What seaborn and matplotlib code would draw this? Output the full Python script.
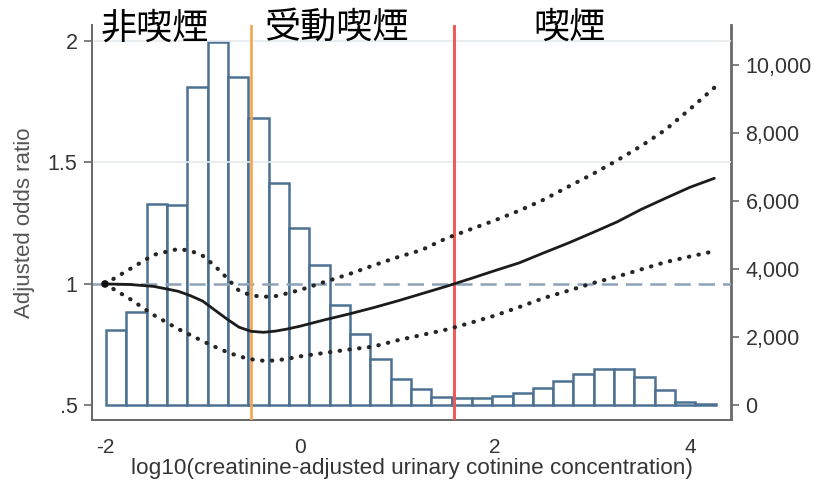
import numpy as np
import pandas as pd
import matplotlib
matplotlib.use("Agg")
import matplotlib.pyplot as plt
import seaborn as sns

# Histogram of log10 cotinine (right axis, number of participants)
bin_start = -1.99
bin_width = 0.2085
counts = [2220, 2750, 5920, 5890, 9345, 10685, 9655, 8450, 6525, 5205,
          4125, 2950, 2090, 1355, 780, 475, 260, 230, 230, 290,
          375, 505, 720, 925, 1065, 1080, 830, 455, 110, 45]

# Spline fit of the adjusted odds ratio with 95% confidence band (left axis)
x_fit = [-2.0, -1.75, -1.5, -1.25, -1.125, -1.0, -0.875, -0.75, -0.625, -0.5,
         -0.375, -0.25, -0.125, 0.0, 0.25, 0.5, 0.75, 1.0, 1.25, 1.5,
         1.75, 2.0, 2.25, 2.5, 2.75, 3.0, 3.25, 3.5, 3.75, 4.0, 4.25]
or_fit = [1.0, 0.998, 0.99, 0.97, 0.952, 0.93, 0.893, 0.856, 0.822, 0.805,
          0.801, 0.806, 0.815, 0.826, 0.852, 0.876, 0.902, 0.93, 0.96, 0.99,
          1.022, 1.055, 1.087, 1.128, 1.168, 1.211, 1.255, 1.307, 1.353, 1.398,
          1.435]
or_upper = [1.0, 1.06, 1.12, 1.144, 1.137, 1.117, 1.075, 1.025, 0.972, 0.953,
            0.947, 0.95, 0.962, 0.975, 1.008, 1.04, 1.076, 1.11, 1.14, 1.188,
            1.225, 1.262, 1.302, 1.347, 1.40, 1.452, 1.508, 1.568, 1.635, 1.72,
            1.808]
or_lower = [1.0, 0.94, 0.872, 0.815, 0.79, 0.765, 0.742, 0.72, 0.702, 0.69,
            0.684, 0.685, 0.692, 0.702, 0.716, 0.73, 0.742, 0.768, 0.79, 0.812,
            0.84, 0.87, 0.905, 0.942, 0.972, 1.003, 1.03, 1.06, 1.09, 1.113,
            1.135]

# Exposure cut-offs (log10 scale)
cut_passive = -0.5
cut_smoker = 1.58

group_labels = ["非喫煙", "受動喫煙", "喫煙"]
group_x = [-1.49, 0.37, 2.76]

x_ticks = [-2, 0, 2, 4]
x_tick_labels = ["-2", "0", "2", "4"]
y_ticks = [0.5, 1.0, 1.5, 2.0]
y_tick_labels = [".5", "1", "1.5", "2"]
count_ticks = [0, 2000, 4000, 6000, 8000, 10000]
count_tick_labels = ["0", "2,000", "4,000", "6,000", "8,000", "10,000"]

sns.set_style("white")
plt.rcParams["font.family"] = ["Liberation Sans", "DejaVu Sans"]

TEXT = "#353535"
AXIS = "#6a6a6a"
BAR_EDGE = "#4d7192"

fig = plt.figure(figsize=(8.17, 4.87), dpi=100)
ax = fig.add_axes([91.5 / 817, 67 / 487, 640 / 817, 395 / 487])
axr = ax.twinx()

# histogram underneath the odds-ratio curves
edges = [float(e) for e in bin_start + bin_width * np.arange(len(counts) + 1)]
hist_df = pd.DataFrame({
    "cotinine": [(edges[i] + edges[i + 1]) / 2 for i in range(len(counts))],
    "n": counts,
})
sns.histplot(data=hist_df, x="cotinine", weights="n", bins=edges, ax=axr,
             facecolor="white", edgecolor=BAR_EDGE, linewidth=1.8, alpha=1)
axr.set_ylim(-426, 11175)
axr.set_yticks(count_ticks)
axr.set_yticklabels(count_tick_labels)
axr.set_ylabel("")
axr.set_xlabel("")

ax.set_zorder(axr.get_zorder() + 1)
ax.patch.set_visible(False)

ax.set_xlim(-2.138, 4.426)
ax.set_ylim(0.44, 2.066)
# light reference lines at the upper odds-ratio ticks
for gy in y_ticks[2:]:
    ax.axhline(gy, color="#e6eaee", linewidth=1.2, zorder=0.5)

ax.axhline(1.0, color="#8ea3b9", linewidth=1.8, linestyle=(0, (6.5, 3.2)), zorder=2)
ax.axvline(cut_passive, color="#f5a44e", linewidth=1.9, zorder=3)
ax.axvline(cut_smoker, color="#ef5656", linewidth=2.1, zorder=3)

dot_style = dict(color="#262626", linewidth=3.0, linestyle=(0, (0.1, 2.25)),
                 dash_capstyle="round", errorbar=None, zorder=4)
sns.lineplot(x=x_fit, y=or_upper, ax=ax, **dot_style)
sns.lineplot(x=x_fit, y=or_lower, ax=ax, **dot_style)
sns.lineplot(x=x_fit, y=or_fit, ax=ax, color="#1c1c1c", linewidth=2.0,
             errorbar=None, zorder=5)
sns.scatterplot(x=x_fit[:1], y=or_fit[:1], ax=ax, color="#111111", s=30,
                edgecolor="none", zorder=6)

ax.set_xticks(x_ticks)
ax.set_xticklabels(x_tick_labels)
ax.set_yticks(y_ticks)
ax.set_yticklabels(y_tick_labels)

for a in (ax, axr):
    a.tick_params(axis="both", length=6, width=1.2, color=AXIS,
                  labelcolor=TEXT, labelsize=15.5, pad=4)
    a.spines["top"].set_visible(False)
    for s in ("left", "right", "bottom"):
        a.spines[s].set_color(AXIS)
        a.spines[s].set_linewidth(1.3)
ax.tick_params(axis="x", pad=7, labelsize=15)

ax.set_xlabel("log10(creatinine-adjusted urinary cotinine concentration)",
              fontsize=16.2, color=TEXT, labelpad=0.5)
ax.set_ylabel("Adjusted odds ratio", fontsize=16, color="#555555", labelpad=9)

for label, gx in zip(group_labels, group_x):
    ax.text(gx, 0.992, label, transform=ax.get_xaxis_transform(),
            ha="center", va="center", fontsize=26, color="black",
            family=["Noto Sans CJK JP", "DejaVu Sans"], zorder=7)

fig.savefig("out.png", dpi=100)
